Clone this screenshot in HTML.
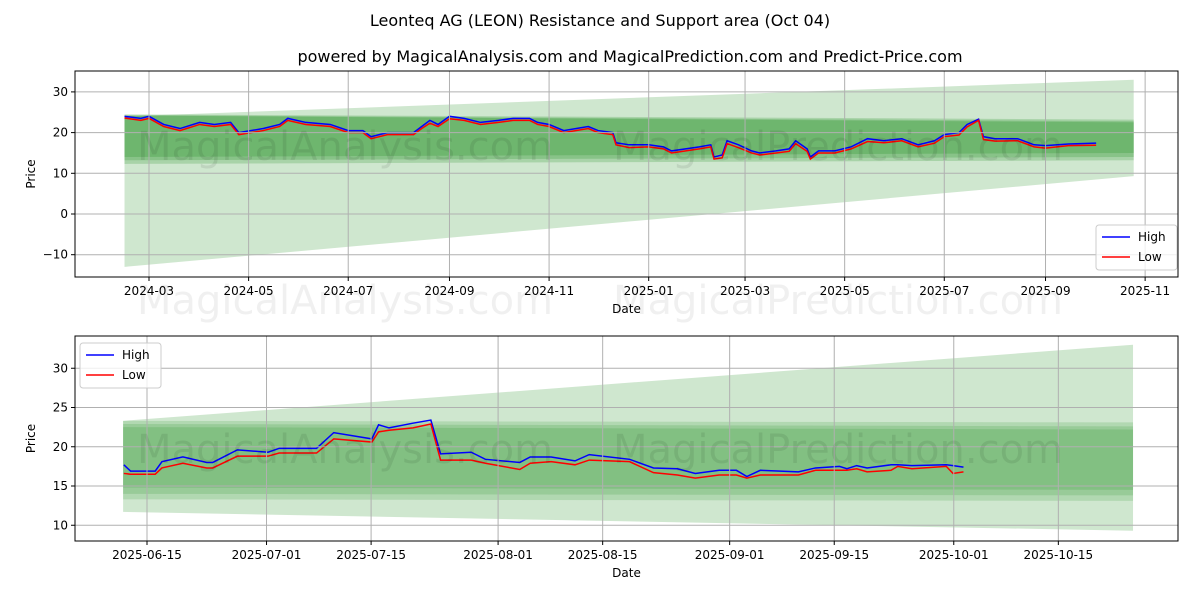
<!DOCTYPE html>
<html><head><meta charset="utf-8"><style>
body{margin:0;background:#fff;font-family:"Liberation Sans","DejaVu Sans",sans-serif}
svg text{font-family:"DejaVu Sans","Liberation Sans",sans-serif}
</style></head><body>
<svg id="c" width="1200" height="600" xmlns="http://www.w3.org/2000/svg">
<rect width="1200" height="600" fill="#fff"/>
<text x="600" y="26" font-size="16" text-anchor="middle">Leonteq AG (LEON) Resistance and Support area (Oct 04)</text>
<text x="630" y="62" font-size="16" text-anchor="middle">powered by MagicalAnalysis.com and MagicalPrediction.com and Predict-Price.com</text>
<g id="top"></g>
<g id="bot"></g>
</svg>
<script>
// ---- top chart data ----
const topDates = ["2024-02-15","2024-02-25","2024-03-01","2024-03-10","2024-03-20","2024-04-01","2024-04-10","2024-04-20","2024-04-25","2024-05-10","2024-05-20","2024-05-25","2024-06-05","2024-06-20","2024-07-01","2024-07-10","2024-07-15","2024-07-25","2024-08-10","2024-08-15","2024-08-20","2024-08-25","2024-09-01","2024-09-10","2024-09-20","2024-10-01","2024-10-10","2024-10-20","2024-10-25","2024-11-01","2024-11-10","2024-11-25","2024-12-01","2024-12-10","2024-12-12","2024-12-20","2025-01-01","2025-01-10","2025-01-15","2025-02-01","2025-02-08","2025-02-10","2025-02-15","2025-02-18","2025-02-25","2025-03-05","2025-03-10","2025-03-20","2025-03-28","2025-04-01","2025-04-08","2025-04-10","2025-04-15","2025-04-25","2025-05-05","2025-05-15","2025-05-25","2025-06-05","2025-06-15","2025-06-25","2025-07-01","2025-07-10","2025-07-15","2025-07-22","2025-07-25","2025-08-01","2025-08-15","2025-08-25","2025-09-01","2025-09-15","2025-10-02"];
const topHigh = [24,23.5,24,22,21,22.5,22,22.5,20,21,22,23.5,22.5,22,20.5,20.5,19,20,20,21.5,23,22,24,23.5,22.5,23,23.5,23.5,22.5,22,20.5,21.5,20.5,20,17.5,17,17,16.5,15.5,16.5,17,14,14.5,18,17,15.5,15,15.5,16,18,16,14,15.5,15.5,16.5,18.5,18,18.5,17,18,19.5,20,22,23.3,19,18.5,18.5,17,16.8,17.2,17.4];
const topLow = [23.6,23,23.5,21.5,20.5,22,21.5,22,19.5,20.5,21.5,23,22,21.5,20,20,18.5,19.5,19.5,21,22.3,21.5,23.4,23,22,22.5,23,23,22,21.5,20,21,20,19.5,17,16.3,16.5,16,15,16,16.5,13.5,13.8,17.3,16.3,15,14.5,15,15.4,17.3,15.4,13.5,15,15,16,17.8,17.5,18,16.5,17.4,19,19.4,21.4,23,18.3,17.9,18,16.5,16.2,16.8,16.9];
const topTicksY = [30,20,10,0,-10];
const topTicksX = ["2024-03-01","2024-05-01","2024-07-01","2024-09-01","2024-11-01","2025-01-01","2025-03-01","2025-05-01","2025-07-01","2025-09-01","2025-11-01"];
const topTickLbl = ["2024-03","2024-05","2024-07","2024-09","2024-11","2025-01","2025-03","2025-05","2025-07","2025-09","2025-11"];
const bandStart = "2024-02-15", bandEnd = "2025-10-25";
const topBands = [[24,33,-13,9.3],[24.5,23.2,12.3,13.2],[24.3,22.8,13.2,14],[24.2,22.5,14,15]];
// ---- bottom chart data ----
const botDays = [-3.1,-2.2,1.1,2,4.8,8,8.8,12.1,16.2,17.7,22.7,25,30.1,31,32.4,35.6,38,39.3,43.4,45.3,49.9,51.3,54.1,57.3,59.2,64.6,67.8,71,73.4,76.6,78.9,80.3,82.1,87.2,89.5,92.7,93.7,95,96.4,99.6,100.5,102.4,107,107.9,109.3];
const botHigh = [17.7,16.9,16.9,18.1,18.7,18.0,18.0,19.6,19.3,19.8,19.8,21.8,21.0,22.8,22.4,23.0,23.4,19.1,19.3,18.4,18.0,18.7,18.7,18.2,19.0,18.4,17.3,17.2,16.6,17.0,17.0,16.2,17.0,16.8,17.3,17.5,17.2,17.6,17.3,17.7,17.7,17.6,17.7,17.6,17.4];
const botLow = [16.6,16.5,16.5,17.3,17.9,17.3,17.3,18.8,18.8,19.2,19.2,21.0,20.6,21.9,22.1,22.4,22.9,18.3,18.3,17.9,17.1,17.9,18.1,17.7,18.3,18.1,16.7,16.4,16.0,16.4,16.4,16.0,16.4,16.4,17.0,17.0,17.0,17.2,16.8,17.0,17.5,17.2,17.5,16.6,16.8];
const botTicksY = [30,25,20,15,10];
const botTicksX = [0,16,30,47,61,78,92,108,122];
const botTickLbl = ["2025-06-15","2025-07-01","2025-07-15","2025-08-01","2025-08-15","2025-09-01","2025-09-15","2025-10-01","2025-10-15"];
const botBandStart = -3.2, botBandEnd = 132;
const botBands = [[23.3,33,11.7,9.3],[23.3,23.1,13.3,13.1],[22.9,22.6,14,13.8],[22.5,22.2,14.8,14.5]];

const NS="http://www.w3.org/2000/svg";
function mk(p,t,a){const e=document.createElementNS(NS,t);for(const k in a)e.setAttribute(k,a[k]);p.appendChild(e);return e;}
const day=s=>Date.UTC(+s.slice(0,4),+s.slice(5,7)-1,+s.slice(8,10))/864e5;
const t0=day("2024-03-01");
const tx=s=>149+(day(s)-t0)*1.633, ty=v=>214-v*4.07;
const bx=d=>147+d*7.47, by=v=>486-(v-15)*7.85;

function panel(g,L,T,R,B,xs,xl,ys,yfmt,X,Y,bs,be,bands,xsH,hi,lo,legX,legY,wmY,op){
  const clip='cl'+T;
  const cp=mk(mk(g,'defs',{}),'clipPath',{id:clip});mk(cp,'rect',{x:L,y:T,width:R-L,height:B-T});
  const pg=mk(g,'g',{'clip-path':`url(#${clip})`});
  bands.forEach((b,i)=>{const p=mk(pg,'polygon',{points:`${X(bs)},${Y(b[0])} ${X(be)},${Y(b[1])} ${X(be)},${Y(b[3])} ${X(bs)},${Y(b[2])}`,fill:'#008000','fill-opacity':i==0?0.19:op});
    
    });
  xs.forEach((d,i)=>{const x=X(d);
    const l=mk(g,'line',{x1:x,x2:x,y1:T,y2:B,stroke:'#b0b0b0','stroke-width':1});
    
    mk(g,'line',{x1:x,x2:x,y1:B,y2:B+4,stroke:'#000'});
    const t=mk(g,'text',{x:x,y:B+18,'font-size':12,'text-anchor':'middle'});t.textContent=xl[i];
    });
  ys.forEach(v=>{const y=Y(v);
    const l=mk(g,'line',{x1:L,x2:R,y1:y,y2:y,stroke:'#b0b0b0','stroke-width':1});
    
    mk(g,'line',{x1:L-4,x2:L,y1:y,y2:y,stroke:'#000'});
    const t=mk(g,'text',{x:L-7,y:y+4,'font-size':12,'text-anchor':'end'});t.textContent=yfmt(v);
    });
  const ph=mk(pg,'polyline',{points:xsH.map((d,i)=>X(d)+','+Y(hi[i])).join(' '),fill:'none',stroke:'#0000ff','stroke-width':1.5});
  
  const pl=mk(pg,'polyline',{points:xsH.map((d,i)=>X(d)+','+Y(lo[i])).join(' '),fill:'none',stroke:'#ff0000','stroke-width':1.5});
  
  [[wmY,'MagicalAnalysis.com',345],[wmY,'MagicalPrediction.com',838]].forEach(w=>{const t=mk(g,'text',{x:w[2],y:w[0],'font-size':40,'text-anchor':'middle',fill:'#000','fill-opacity':0.08});t.textContent=w[1];
    });
  mk(g,'rect',{x:L,y:T,width:R-L,height:B-T,fill:'none',stroke:'#000','stroke-width':1});
  const lg=mk(g,'g',{});
  mk(lg,'rect',{x:legX,y:legY,width:81,height:45,rx:3,fill:'#fff','fill-opacity':0.8,stroke:'#ccc'});
  [['High','#0000ff',0],['Low','#ff0000',20]].forEach(e=>{mk(lg,'line',{x1:legX+6,x2:legX+34,y1:legY+12+e[2],y2:legY+12+e[2],stroke:e[1],'stroke-width':1.5});
    const t=mk(lg,'text',{x:legX+42,y:legY+16+e[2],'font-size':12});t.textContent=e[0];
    });
  const xt=mk(g,'text',{x:(L+R)/2,y:B+36,'font-size':12,'text-anchor':'middle'});xt.textContent='Date';
  
  const yt=mk(g,'text',{x:0,y:0,'font-size':12,'text-anchor':'middle',transform:`translate(${L-40},${(T+B)/2}) rotate(-90)`});yt.textContent='Price';
  
}
const fmt=v=>v<0?'\u2212'+(-v):String(v);
panel(document.getElementById('top'),75,71,1178,277,topTicksX,topTickLbl,topTicksY,fmt,tx,ty,bandStart,bandEnd,topBands,topDates,topHigh,topLow,1096,225,160,0.19);
panel(document.getElementById('bot'),75,336,1178,541,botTicksX,botTickLbl,botTicksY,fmt,bx,by,botBandStart,botBandEnd,botBands,botDays,botHigh,botLow,80,343,463,0.14);
[['MagicalAnalysis.com',345],['MagicalPrediction.com',838]].forEach(w=>{const t=mk(document.getElementById('c'),'text',{x:w[1],y:314,'font-size':40,'text-anchor':'middle',fill:'#000','fill-opacity':0.06});t.textContent=w[0];
  
  });
</script>
</body></html>
